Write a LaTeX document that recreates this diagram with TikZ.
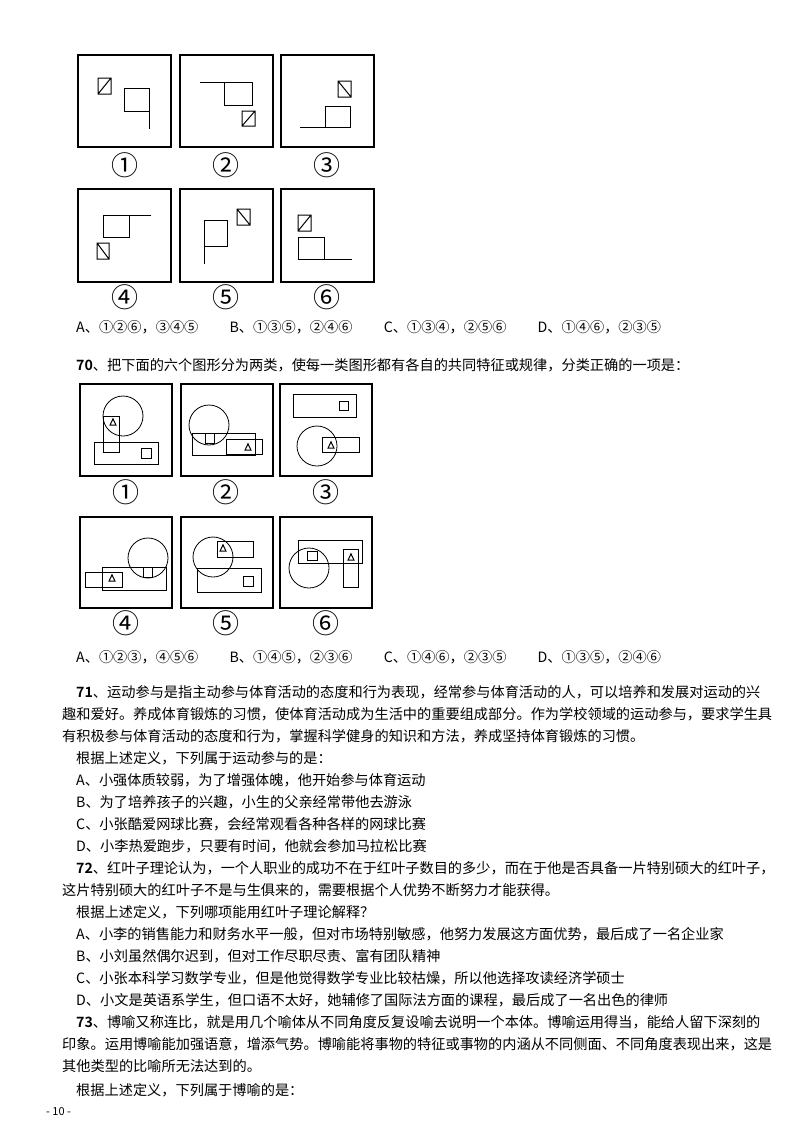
\documentclass[tikz,border=0pt]{standalone}
\usepackage{fontspec}
\setmainfont{Noto Sans CJK SC}
\newfontfamily\cjkb{Noto Sans CJK SC Bold}
\begin{document}
\begin{tikzpicture}[x=1pt,y=-1pt,
  frame/.style={line width=1.3pt},
  fig/.style={line width=1pt},
  thin/.style={line width=0.8pt},
  lbl/.style={font=\fontsize{27}{28}\selectfont,inner sep=0pt},
  txt/.style={anchor=west,inner sep=0pt,font=\fontsize{14.2}{16}\selectfont}]
\useasboundingbox[fill=white] (0,0) rectangle (800,1132);
% ---- set 1 frames
\foreach \x/\n in {78/1,180/2,281/3}{\draw[frame] (\x,55) rectangle ++(93,92);}
\foreach \x in {78,180,281}{\draw[frame] (\x,189) rectangle ++(93,93);}
\node[lbl] (l1) at (125,165) {①};\node[lbl] (l2) at (226,165) {②};\node[lbl] (l3) at (327,165) {③};
\node[lbl] (l4) at (125,297) {④};\node[lbl] (l5) at (226,297) {⑤};\node[lbl] (l6) at (327,297) {⑥};
% box1
\draw[fig] (98,78) rectangle (111,94) (98,94)--(111,78);
\draw[fig] (149,111)--(124,111)--(124,88)--(149,88)--(149,129);
% box2
\draw[fig] (200,82)--(252,82)--(252,105)--(224,105)--(224,82);
\draw[fig] (242,111) rectangle (255,126) (242,126)--(255,111);
% box3
\draw[fig] (338,81) rectangle (351,97) (338,81)--(351,97);
\draw[fig] (300,127)--(350,127)--(350,106)--(325,106)--(325,127);
% box4
\draw[fig] (151,215)--(103,215)--(103,237)--(129,237)--(129,215);
\draw[fig] (97,243) rectangle (109,259) (97,243)--(109,259);
% box5
\draw[fig] (204,264)--(204,220)--(227,220)--(227,246)--(204,246);
\draw[fig] (237,209) rectangle (250,225) (237,209)--(250,225);
% box6
\draw[fig] (298,215) rectangle (311,231) (298,231)--(311,215);
\draw[fig] (352,259)--(298,259)--(298,237)--(324,237)--(324,259);
% ---- text
\node[txt] (o1) at (76,327) {A、①②⑥，③④⑤\hspace{2.2em}B、①③⑤，②④⑥\hspace{2.2em}C、①③④，②⑤⑥\hspace{2.2em}D、①④⑥，②③⑤};
\node[txt] (q70) at (76,365) {{\cjkb 70}、把下面的六个图形分为两类，使每一类图形都有各自的共同特征或规律，分类正确的一项是：};
% ---- set 2 frames
\foreach \x in {80,181,280}{\draw[frame] (\x,384) rectangle ++(92,92);\draw[frame] (\x,517) rectangle ++(92,91);}
\node[lbl] (m1) at (126,492) {①};\node[lbl] (m2) at (226,492) {②};\node[lbl] (m3) at (326,492) {③};
\node[lbl] (m4) at (126,623) {④};\node[lbl] (m5) at (226,623) {⑤};\node[lbl] (m6) at (326,623) {⑥};
\def\tri#1#2{\draw[line width=1pt] (#1-3,#2+3.2)--(#1+3,#2+3.2)--(#1,#2-3.2)--cycle;}
% s2 box1
\draw[thin] (123,416) circle (20);
\draw[thin] (103,416) rectangle (119,452); \tri{113}{422}
\draw[thin] (94,442) rectangle (158,464); \draw[thin] (141,448) rectangle (151,458);
% s2 box2
\draw[thin] (209,425) circle (20);
\draw[thin] (192,433) rectangle (255,455); \draw[thin] (205,433) rectangle (214,443);
\draw[thin] (226,439) rectangle (262,454); \tri{248}{447}
% s2 box3
\draw[thin] (293,394) rectangle (356,417); \draw[thin] (339,401) rectangle (348,410);
\draw[thin] (317,446) circle (20);
\draw[thin] (322,437) rectangle (359,452); \tri{331}{445}
% s2 box4
\draw[thin] (148,558) circle (20);
\draw[thin] (102,567) rectangle (166,590); \draw[thin] (143,567) rectangle (152,577);
\draw[thin] (85,572) rectangle (122,587); \tri{112}{578}
% s2 box5
\draw[thin] (213,557) circle (20);
\draw[thin] (217,541) rectangle (253,557); \tri{223}{548}
\draw[thin] (197,568) rectangle (261,592); \draw[thin] (243,576) rectangle (253,586);
% s2 box6
\draw[thin] (298,540) rectangle (362,563); \draw[thin] (307,551) rectangle (317,560);
\draw[thin] (309,568) circle (20);
\draw[thin] (343,549) rectangle (358,587); \tri{351}{557}
% ---- text
\node[txt] (o2) at (76,657) {A、①②③，④⑤⑥\hspace{2.2em}B、①④⑤，②③⑥\hspace{2.2em}C、①④⑥，②③⑤\hspace{2.2em}D、①③⑤，②④⑥};
\node[txt] (a1) at (76,692) {{\cjkb 71}、运动参与是指主动参与体育活动的态度和行为表现，经常参与体育活动的人，可以培养和发展对运动的兴};
\node[txt] (a2) at (62,714) {趣和爱好。养成体育锻炼的习惯，使体育活动成为生活中的重要组成部分。作为学校领域的运动参与，要求学生具};
\node[txt] (a3) at (62,736) {有积极参与体育活动的态度和行为，掌握科学健身的知识和方法，养成坚持体育锻炼的习惯。};
\node[txt] (a4) at (76,758) {根据上述定义，下列属于运动参与的是：};
\node[txt] (a5) at (76,780) {A、小强体质较弱，为了增强体魄，他开始参与体育运动};
\node[txt] (a6) at (76,802) {B、为了培养孩子的兴趣，小生的父亲经常带他去游泳};
\node[txt] (a7) at (76,824) {C、小张酷爱网球比赛，会经常观看各种各样的网球比赛};
\node[txt] (a8) at (76,846) {D、小李热爱跑步，只要有时间，他就会参加马拉松比赛};
\node[txt] (b1) at (76,868) {{\cjkb 72}、红叶子理论认为，一个人职业的成功不在于红叶子数目的多少，而在于他是否具备一片特别硕大的红叶子，};
\node[txt] (b2) at (62,890) {这片特别硕大的红叶子不是与生俱来的，需要根据个人优势不断努力才能获得。};
\node[txt] (b3) at (76,912) {根据上述定义，下列哪项能用红叶子理论解释？};
\node[txt] (b4) at (76,934) {A、小李的销售能力和财务水平一般，但对市场特别敏感，他努力发展这方面优势，最后成了一名企业家};
\node[txt] (b5) at (76,956) {B、小刘虽然偶尔迟到，但对工作尽职尽责、富有团队精神};
\node[txt] (b6) at (76,978) {C、小张本科学习数学专业，但是他觉得数学专业比较枯燥，所以他选择攻读经济学硕士};
\node[txt] (b7) at (76,1000) {D、小文是英语系学生，但口语不太好，她辅修了国际法方面的课程，最后成了一名出色的律师};
\node[txt] (c1) at (76,1022) {{\cjkb 73}、博喻又称连比，就是用几个喻体从不同角度反复设喻去说明一个本体。博喻运用得当，能给人留下深刻的};
\node[txt] (c2) at (62,1044) {印象。运用博喻能加强语意，增添气势。博喻能将事物的特征或事物的内涵从不同侧面、不同角度表现出来，这是};
\node[txt] (c3) at (62,1066) {其他类型的比喻所无法达到的。};
\node[txt] (c4) at (76,1090) {根据上述定义，下列属于博喻的是：};
\node[txt,font=\fontsize{11}{12}\selectfont] (pg) at (46,1112) {- 10 -};
\end{tikzpicture}
\end{document}
